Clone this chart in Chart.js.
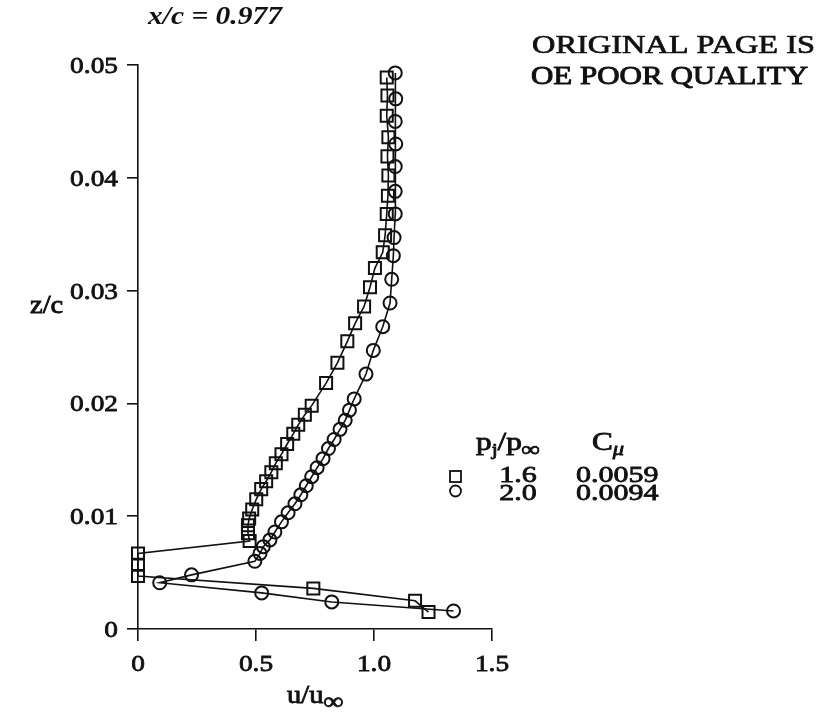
<!DOCTYPE html>
<html>
<head>
<meta charset="utf-8">
<script src="https://cdn.jsdelivr.net/npm/chart.js@4.4.1/dist/chart.umd.min.js"></script>
<style>
  html, body { margin: 0; padding: 0; background: #fff; }
  canvas { display: block; }
</style>
</head>
<body>
<canvas id="chart" width="820" height="714"></canvas>
<script>
// velocity profile, pj/pinf = 1.6 (squares)
const sqU = [1.231, 1.174, 0.743, 0, 0, 0, 0.473, 0.466, 0.466, 0.471, 0.484, 0.501, 0.522, 0.543, 0.565,
  0.584, 0.608, 0.632, 0.658, 0.679, 0.707, 0.736, 0.797, 0.845, 0.887, 0.920, 0.958, 0.983, 1.004, 1.037,
  1.047, 1.054, 1.059, 1.061, 1.057, 1.061, 1.054, 1.057, 1.054];
const sqZ = [0.0015, 0.0025, 0.0036, 0.0047, 0.0057, 0.0067, 0.0078, 0.0085, 0.0092, 0.0098, 0.0106, 0.0115,
  0.0124, 0.0131, 0.0139, 0.0147, 0.0155, 0.0164, 0.0173, 0.0181, 0.0190, 0.0198, 0.0218, 0.0236, 0.0255,
  0.0271, 0.0286, 0.0303, 0.0320, 0.0334, 0.0349, 0.0368, 0.0384, 0.0402, 0.0419, 0.0436, 0.0455, 0.0473, 0.0489];

// velocity profile, pj/pinf = 2.0 (circles)
const ciU = [1.337, 0.821, 0.524, 0.092, 0.227, 0.495, 0.517, 0.531, 0.559, 0.580, 0.608, 0.636, 0.665,
  0.690, 0.713, 0.736, 0.759, 0.784, 0.807, 0.831, 0.856, 0.878, 0.896, 0.916, 0.966, 0.997, 1.037, 1.068,
  1.075, 1.082, 1.085, 1.090, 1.090, 1.090, 1.092, 1.090, 1.092, 1.090];
const ciZ = [0.0016, 0.0024, 0.0032, 0.0041, 0.0048, 0.0060, 0.0067, 0.0073, 0.0079, 0.0086, 0.0095, 0.0103,
  0.0111, 0.0119, 0.0127, 0.0135, 0.0143, 0.0151, 0.0160, 0.0168, 0.0177, 0.0185, 0.0194, 0.0204, 0.0226,
  0.0247, 0.0268, 0.0289, 0.0310, 0.0331, 0.0347, 0.0368, 0.0388, 0.0410, 0.0430, 0.0450, 0.0470, 0.0493];

const xTickVals = [0, 0.5, 1.0, 1.5];
const xTickLabels = ['0', '0.5', '1.0', '1.5'];
const yTickVals = [0, 0.01, 0.02, 0.03, 0.04, 0.05];
const yTickLabels = ['0', '0.01', '0.02', '0.03', '0.04', '0.05'];

const legendRatio = ['1.6', '2.0'];
const legendCmu = ['0.0059', '0.0094'];

const INK = '#111';
const SERIF = '"Liberation Serif", "Times New Roman", serif';
const WIDE = 1.14;   // the typeset labels run a little wide

const toPoints = (u, z) => u.map((v, i) => ({ x: v, y: z[i] }));

// draw text squeezed/stretched horizontally to a given width
function fitText(ctx, text, font, x, y, width, heavy) {
    ctx.font = font;
    const w = ctx.measureText(text).width;
    ctx.save();
    ctx.translate(x, y);
    ctx.scale(width / w, 1);
    ctx.fillText(text, 0, 0);
    if (heavy) { ctx.lineWidth = heavy; ctx.strokeText(text, 0, 0); }
    ctx.restore();
}

// text runs with subscripts: [[text, size, dy, style]], stretched by sx
function runText(ctx, x, y, parts, sx, align) {
    const fontOf = (size, style) => (style || 'normal') + ' ' + size + 'px ' + SERIF;
    let total = 0;
    for (const [t, size, , style] of parts) {
        ctx.font = fontOf(size, style);
        total += ctx.measureText(t).width;
    }
    ctx.save();
    ctx.translate(x, y);
    ctx.scale(sx, 1);
    ctx.lineWidth = 0.8;
    let cx = align === 'right' ? -total : align === 'center' ? -total / 2 : 0;
    ctx.textAlign = 'left';
    for (const [t, size, dy, style] of parts) {
        ctx.font = fontOf(size, style);
        ctx.fillText(t, cx, dy);
        ctx.strokeText(t, cx, dy);
        cx += ctx.measureText(t).width;
    }
    ctx.restore();
}

const annotations = {
    id: 'annotations',
    afterDraw(chart) {
        const ctx = chart.ctx;
        const xs = chart.scales.x, ys = chart.scales.y;
        ctx.save();
        ctx.fillStyle = INK;
        ctx.strokeStyle = INK;
        ctx.textBaseline = 'alphabetic';

        // tick labels placed from the axes
        xs.ticks.forEach((t, i) => {
            runText(ctx, xs.getPixelForValue(t.value), 671, [[xTickLabels[i], 24, 0]], WIDE, 'center');
        });
        ys.ticks.forEach((t, i) => {
            runText(ctx, 118, ys.getPixelForValue(t.value) + 8, [[yTickLabels[i], 24, 0]], WIDE, 'right');
        });

        // station label
        fitText(ctx, 'x/c = 0.977', 'italic bold 25px ' + SERIF, 148, 24, 134);

        // stamp, top right
        fitText(ctx, 'ORIGINAL PAGE IS', '26px ' + SERIF, 532, 53, 283, 0.7);
        fitText(ctx, 'OE POOR QUALITY', '26px ' + SERIF, 531, 84, 277, 0.9);

        // axis titles
        runText(ctx, 30, 313, [['z/c', 25, 0]], WIDE);
        runText(ctx, 287, 703, [['u/u', 25, 0], ['\u221E', 24, 6, 'bold']], WIDE);

        // legend header
        runText(ctx, 476, 450, [['p', 25, 0], ['j', 17, 5], ['/p', 25, 0], ['\u221E', 20, 6, 'bold']], 1.25);
        runText(ctx, 592, 450, [['C', 25, 0], ['\u03BC', 18, 5, 'italic']], 1.25);

        // legend rows
        ctx.lineWidth = 1.8;
        ctx.strokeRect(450, 471, 11, 11);
        ctx.beginPath();
        ctx.arc(455.5, 491, 5.5, 0, Math.PI * 2);
        ctx.stroke();
        const rowY = [482, 500];
        for (let i = 0; i < 2; i++) {
            runText(ctx, 518, rowY[i], [[legendRatio[i], 24, 0]], 1.25, 'center');
            runText(ctx, 576, rowY[i], [[legendCmu[i], 24, 0]], 1.25);
        }
        ctx.restore();
    }
};

const lineStyle = {
    showLine: true,
    borderColor: INK,
    borderWidth: 1.6,
    tension: 0,
    pointBorderColor: INK,
    pointBackgroundColor: 'rgba(0,0,0,0)',
    pointBorderWidth: 2,
    clip: false
};

new Chart(document.getElementById('chart'), {
    type: 'scatter',
    data: {
        datasets: [
            { ...lineStyle, label: '1.6', data: toPoints(sqU, sqZ), pointStyle: 'rect', pointRadius: 8.5 },
            { ...lineStyle, label: '2.0', data: toPoints(ciU, ciZ), pointStyle: 'circle', pointRadius: 6.5 }
        ]
    },
    options: {
        responsive: false,
        animation: false,
        layout: { padding: { top: 65, right: 328, bottom: 0, left: 0 } },
        plugins: { legend: { display: false }, tooltip: { enabled: false } },
        scales: {
            x: {
                type: 'linear',
                min: 0,
                max: 1.5,
                afterFit: s => { s.height = 85; },
                afterBuildTicks: s => { s.ticks = xTickVals.map(v => ({ value: v })); },
                ticks: { display: false },
                grid: { drawOnChartArea: false, drawTicks: true, tickLength: 12, color: INK, lineWidth: 1.6 },
                border: { display: true, color: INK, width: 1.6 }
            },
            y: {
                type: 'linear',
                min: 0,
                max: 0.05,
                afterFit: s => { s.width = 138; },
                afterBuildTicks: s => { s.ticks = yTickVals.map(v => ({ value: v })); },
                ticks: { display: false },
                grid: { drawOnChartArea: false, drawTicks: true, tickLength: 11, color: INK, lineWidth: 1.6 },
                border: { display: true, color: INK, width: 1.6 }
            }
        }
    },
    plugins: [annotations]
});
</script>
</body>
</html>
